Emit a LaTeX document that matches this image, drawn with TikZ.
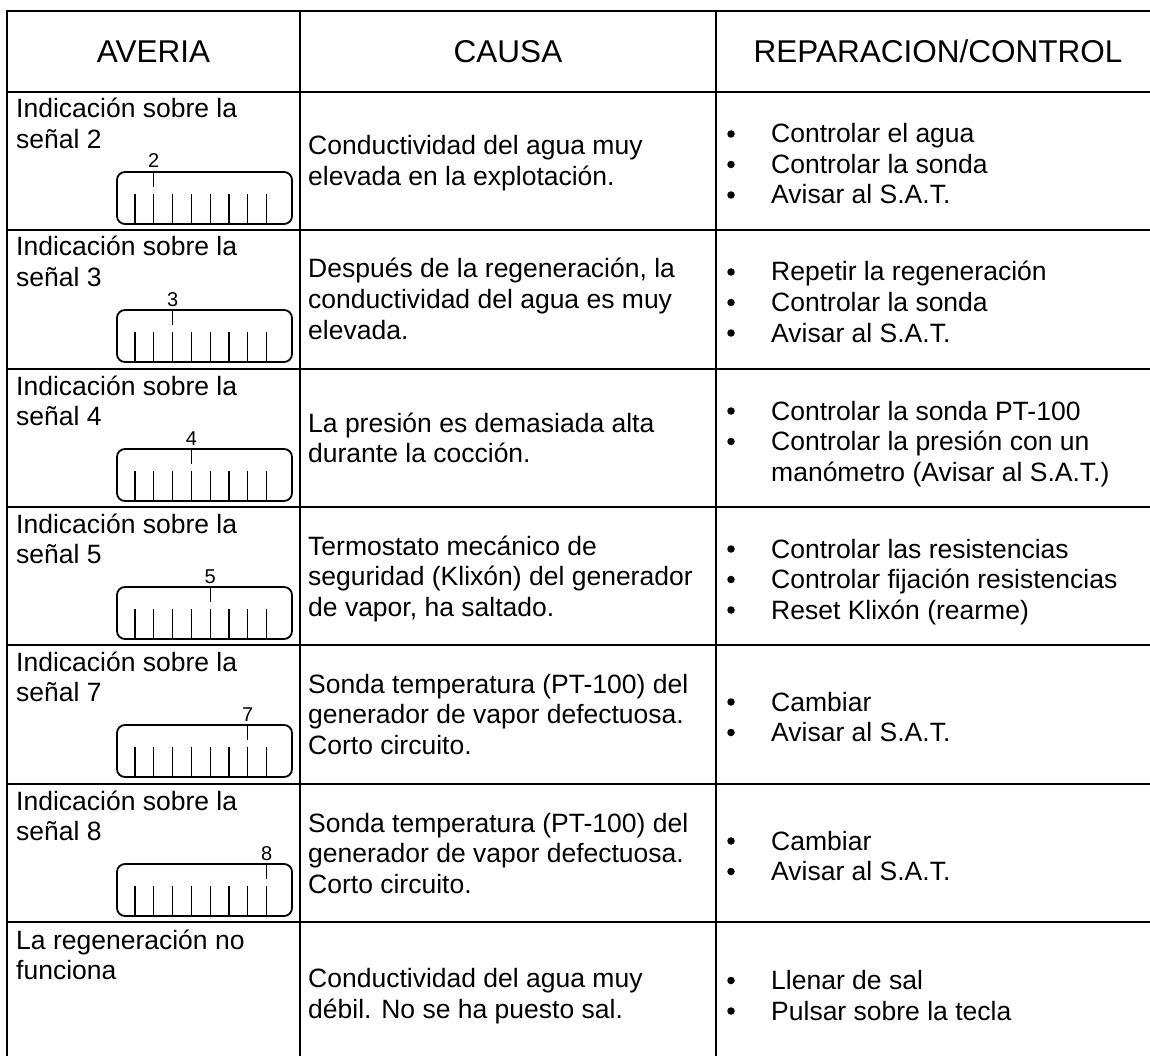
\documentclass[tikz,border=0pt]{standalone}
\usepackage{fontspec}
\setmainfont{Liberation Sans}
\usetikzlibrary{calc}
\tikzset{
  gridline/.style={line width=2.2pt},
  txt/.style={anchor=base west, inner sep=0pt, font=\fontsize{26.5}{30.5}\selectfont},
  hdr/.style={anchor=base, inner sep=0pt, font=\fontsize{31.5}{36}\selectfont},
  gbox/.style={draw, line width=1.8pt, rounded corners=8pt, minimum width=175pt, minimum height=52pt, anchor=south west, inner sep=0pt, outer sep=0pt},
  gtick/.style={line width=1.3pt},
  glabel/.style={anchor=base, inner sep=0pt, font=\fontsize{20}{24}\selectfont},
  bul/.style={circle, fill, inner sep=0pt, minimum size=7.5pt}
}
% #1 name, #2 row top, #3 marker index, #4 label
\newcommand\gauge[4]{%
  \pgfmathsetmacro\gbot{#2+132}
  \node[gbox] (#1) at (117,\gbot) {};
  \foreach \i in {1,...,8}{
    \draw[gtick] ($(#1.south west)+({18+18.8*(\i-1)},0)$) -- ++(0,-30);
  }
  \draw[gtick] ($(#1.north west)+({18+18.8*(#3-1)},0)$) -- ++(0,15);
  \node[glabel] (#1l) at ($(#1.north west)+({18+18.8*(#3-1)},-4)$) {#4};
}
\begin{document}
\begin{tikzpicture}[x=1pt,y=-1pt]
\useasboundingbox (0,0) rectangle (1150,1056);
\clip (0,0) rectangle (1150,1056);
% grid (table runs past the right and bottom edges of the picture)
\draw[gridline] (7,11) rectangle (1160,1066);
\draw[gridline] (300,11) -- (300,1066);
\draw[gridline] (716,11) -- (716,1066);
\foreach \yy in {92,230,369,507,645,784,922}{
  \draw[gridline] (7,\yy) -- (1160,\yy);
}
% header
\node[hdr] (h1) at (153.5,63) {AVERIA};
\node[hdr] (h2) at (508,63) {CAUSA};
\node[hdr] (h3) at (938,63) {REPARACION/CONTROL};
% left column
\foreach \rt/\n/\k in {92/2/a,230/3/b,369/4/c,507/5/d,645/7/e,784/8/f}{
  \node[txt] (l\k1) at (16,\rt+26) {Indicación sobre la};
  \node[txt] (l\k2) at (16,\rt+56.5) {señal \n};
}
\gauge{ga}{92}{2}{2}
\gauge{gb}{230}{3}{3}
\gauge{gc}{369}{4}{4}
\gauge{gd}{507}{5}{5}
\gauge{ge}{645}{7}{7}
\gauge{gf}{784}{8}{8}
\node[txt] (lg1) at (16,949) {La regeneración no};
\node[txt] (lg2) at (16,979.5) {funciona};
% middle column
\node[txt] (ma1) at (308,155) {Conductividad del agua muy};
\node[txt] (ma2) at (308,185.5) {elevada en la explotación.};
\node[txt] (mb1) at (308,278) {Después de la regeneración, la};
\node[txt] (mb2) at (308,308.5) {conductividad del agua es muy};
\node[txt] (mb3) at (308,339) {elevada.};
\node[txt] (mc1) at (308,432) {La presión es demasiada alta};
\node[txt] (mc2) at (308,462.5) {durante la cocción.};
\node[txt] (md1) at (308,555) {Termostato mecánico de};
\node[txt] (md2) at (308,585.5) {seguridad (Klixón) del generador};
\node[txt] (md3) at (308,616) {de vapor, ha saltado.};
\node[txt] (me1) at (308,693) {Sonda temperatura (PT-100) del};
\node[txt] (me2) at (308,723.5) {generador de vapor defectuosa.};
\node[txt] (me3) at (308,754) {Corto circuito.};
\node[txt] (mf1) at (308,832) {Sonda temperatura (PT-100) del};
\node[txt] (mf2) at (308,862.5) {generador de vapor defectuosa.};
\node[txt] (mf3) at (308,893) {Corto circuito.};
\node[txt] (mg1) at (308,987.5) {Conductividad del agua muy};
\node[txt] (mg2) at (308,1018) {débil. No se ha puesto sal.};
% right column
\foreach \k/\yy/\t in {
  a1/143/Controlar el agua, a2/173.5/Controlar la sonda, a3/204/Avisar al S.A.T.,
  b1/281/Repetir la regeneración, b2/311.5/Controlar la sonda, b3/342/Avisar al S.A.T.,
  c1/420/Controlar la sonda PT-100, c2/450.5/Controlar la presión con un,
  d1/558/Controlar las resistencias, d2/588.5/Controlar fijación resistencias, d3/619/Reset Klixón (rearme),
  e1/711/Cambiar, e2/741.5/Avisar al S.A.T.,
  f1/850/Cambiar, f2/880.5/Avisar al S.A.T.,
  g1/989.5/Llenar de sal, g2/1020/Pulsar sobre la tecla}{
  \node[bul] (b\k) at (731,\yy-9) {};
  \node[txt] (r\k) at (771,\yy) {\t};
}
\node[txt] (rc3) at (771,481) {manómetro (Avisar al S.A.T.)};
\end{tikzpicture}
\end{document}
